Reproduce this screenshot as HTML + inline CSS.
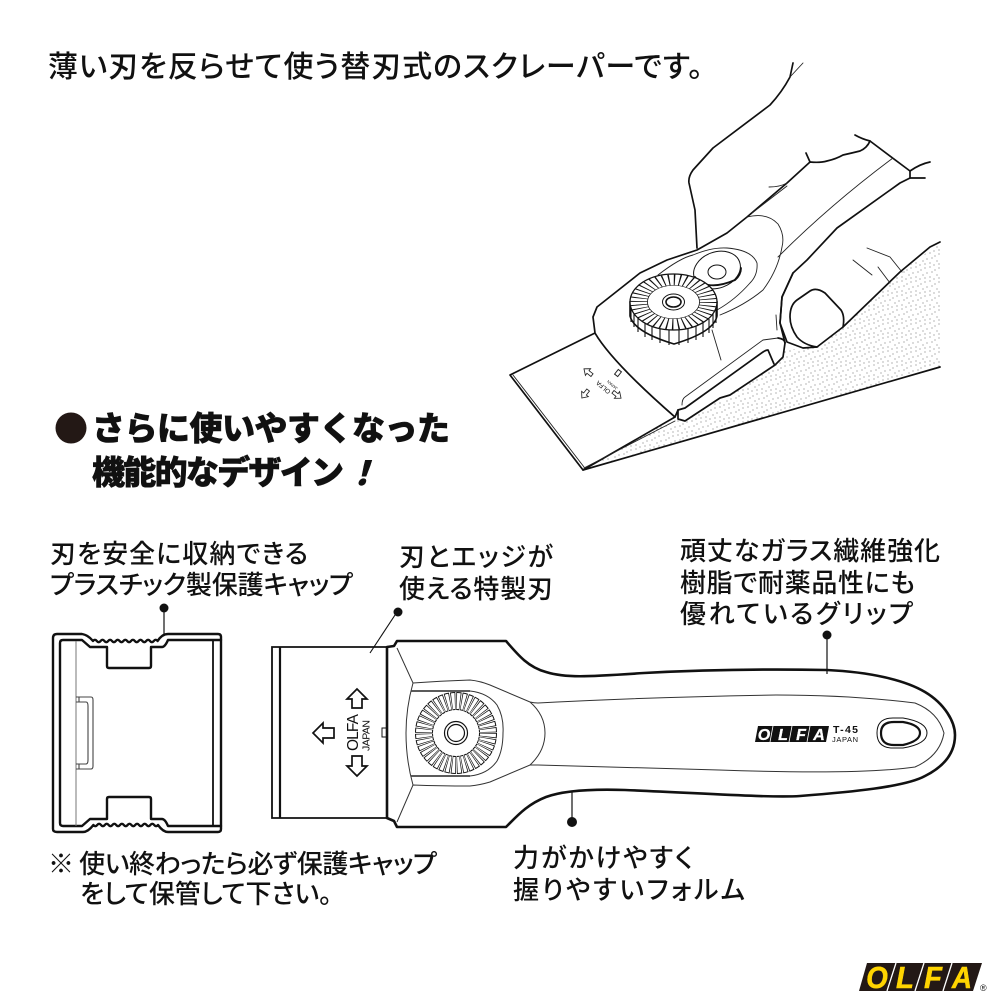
<!DOCTYPE html>
<html lang="ja"><head><meta charset="utf-8"><title>OLFA T-45</title>
<style>
html,body{margin:0;padding:0;background:#fff;width:1000px;height:1000px;overflow:hidden}
svg{display:block}
text{font-family:"Liberation Sans","Noto Sans CJK JP",sans-serif;fill:#111}
.j{font-size:26px;font-weight:500;font-feature-settings:"palt";font-family:"Noto Sans CJK JP",sans-serif}
.h{font-size:33px;font-weight:900;font-family:"Noto Sans CJK JP",sans-serif;stroke:#111;stroke-width:.6px}
.l{fill:none;stroke:#111;stroke-width:1.7;stroke-linejoin:round;stroke-linecap:round}
.t{fill:none;stroke:#222;stroke-width:.9;stroke-linecap:round;stroke-linejoin:round}
.w{fill:#fff;stroke:#111;stroke-width:1.7;stroke-linejoin:round}
.c{fill:none;stroke:#111;stroke-width:2.4;stroke-linejoin:round;stroke-linecap:round}
.g{fill:none;stroke:#333;stroke-width:1}
.y{font-size:31px;font-weight:bold;font-style:italic;fill:#ffd400;stroke:#ffd400;stroke-width:.5;text-anchor:middle}
.o{font-size:16px;font-weight:bold;font-style:italic;fill:#fff;stroke:#fff;stroke-width:.3;text-anchor:middle}
</style></head><body>
<svg width="1000" height="1000" viewBox="0 0 1000 1000" xmlns="http://www.w3.org/2000/svg">
<defs><pattern id="st" width="14" height="14" patternUnits="userSpaceOnUse">
<g fill="#444"><circle cx="1" cy="2" r=".5"/><circle cx="6" cy="1" r=".5"/><circle cx="11" cy="4" r=".5"/><circle cx="3" cy="7" r=".5"/><circle cx="8" cy="6" r=".5"/><circle cx="13" cy="9" r=".5"/><circle cx="1" cy="12" r=".5"/><circle cx="6" cy="11" r=".5"/><circle cx="10" cy="13" r=".5"/></g></pattern></defs>

<text x="48" y="77" style="font-size:30px;font-family:'Noto Sans CJK JP',sans-serif;font-weight:500;font-feature-settings:'palt'" textLength="655">薄い刃を反らせて使う替刃式のスクレーパーです。</text>

<!-- sanding surface -->
<path d="M583 470L940 367V243L900 272 843 327 817 347 783 350 730 395 685 420 675 418Z" fill="url(#st)"/>
<path class="l" d="M583 470L940 367"/>

<!-- blade -->
<path class="w" d="M510 375L595 333Q612 362 675 417L583 470Z"/>
<path class="t" d="M513 375L584 467M584 468L675 421"/>
<g fill="#fff" stroke="#222" stroke-width="1">
<path transform="translate(588 372) rotate(38) scale(.85)" d="M-6 0L0 -5V-2H6V2H0V5Z"/>
<path transform="translate(617 395) rotate(218) scale(.85)" d="M-6 0L0 -5V-2H6V2H0V5Z"/>
<path transform="translate(585 394) rotate(-52) scale(.85)" d="M-6 0L0 -5V-2H6V2H0V5Z"/>
<path transform="translate(618 373) rotate(38)" d="M-2 -3H2V3H-2Z"/>
</g>
<text transform="translate(611 391) rotate(220)" style="font-size:6.500px">OLFA</text>
<text transform="translate(618 388) rotate(220)" style="font-size:4px">JAPAN</text>

<!-- handle -->
<path class="w" d="M595 333L593 317 597 307 640 273 667 260 697 250 727 233 747 217 787 183 810 162Q820 163 827 161 836 159 843 155 852 153 860 151 867 148 870 141L910 171 910 178 900 183 837 228 807 260 793 273 782 297 780 323 785 343 783 357 775 365 730 395 720 398 685 421 678 419 678 410 675 417Q612 362 595 333Z"/>
<path class="l" d="M855 135Q862 139 870 141M910 171Q920 164 930 162M910 178H925M810 162L806 153"/>
<path class="t" d="M769 187Q780 187 787 183M752 213L787 186"/>
<path class="t" d="M893 158Q830 205 778 257M747 217Q767 212 778 224 785 235 782 247 778 270 763 290 745 305 720 315M658 275Q680 258 693 255 712 247 727 248 752 250 757 263 758 275 750 283 735 300 717 310M712 330L721 360"/>
<ellipse cx="717" cy="270" rx="24" ry="18" transform="rotate(-20 717 270)" fill="#fff" stroke="#111" stroke-width="1"/>
<path class="l" d="M695 277Q707 292 735 280 741 275 741 268" style="stroke-width:1.800"/>
<ellipse cx="717" cy="272" rx="9" ry="7" fill="#fff" stroke="#111"/>

<!-- slot -->
<path class="t" d="M682 405Q682 399 685 397L763 340 778 338"/>
<path class="l" d="M778 338Q785 339 785 343M678 410L685 408 763 352Q766 350 768 350L774 364"/>

<!-- hand -->
<path class="l" d="M793 63L790 77Q782 92 770 105L713 148 693 170Q688 177 689 183L695 210 697 248"/>
<path class="t" d="M803 63L790 77"/>
<!-- finger -->
<path class="l" d="M940 242L930 247 900 272 843 327 817 347 803 348 787 342 780 323 782 297 793 273"/>
<path class="l" d="M790 317Q790 305 797 300L810 291Q816 287 825 293L841 310Q845 316 843 327M817 347Q804 345 797 337 790 327 790 317"/>
<path class="t" d="M867 248L890 257 902 272M853 260L872 275M878 267L890 283M776 315L777 330"/>

<!-- dial -->
<g>
<path fill="#fff" stroke="#111" stroke-width="1.600" d="M630 302V316Q634 332 674 344 714 332 717 316V302Z"/>
<path stroke="#111" stroke-width="1.100" fill="none" d="M716 309v14M713 314v14M709 319v14M703 322v15M696 325v15M688 328v15M679 330v15M669 330v15M660 328v15M652 325v15M645 322v15M638 318v14M634 313v14M631 308v14"/>
<ellipse cx="673.500" cy="302" rx="43.500" ry="28" fill="#fff" stroke="#111" stroke-width="1.300"/>
<g transform="translate(673.500 302) scale(1 .64)">
<circle r="34.500" fill="none" stroke="#111" stroke-width="17" stroke-dasharray="1.300 4.120"/>
<circle r="26" fill="#fff" stroke="#111" stroke-width=".8"/>
</g>
<ellipse cx="673.500" cy="302" rx="11" ry="8" fill="#fff" stroke="#111" stroke-width="1"/>
<ellipse cx="673.500" cy="302" rx="7.500" ry="5" fill="#fff" stroke="#111" stroke-width="1.600"/>
</g>

<!-- heading -->
<circle cx="71" cy="428" r="15.500" fill="#231815"/>
<text class="h" x="92" y="440" textLength="358">さらに使いやすくなった</text>
<text class="h" x="92" y="484" textLength="252">機能的なデザイン</text>
<text class="h" transform="translate(345 485) skewX(-16)">！</text>

<!-- labels -->
<text class="j" x="50" y="563" textLength="258">刃を安全に収納できる</text>
<text class="j" x="50" y="594" textLength="303">プラスチック製保護キャップ</text>
<text class="j" x="399" y="566" textLength="154">刃とエッジが</text>
<text class="j" x="399" y="598" textLength="154">使える特製刃</text>
<text class="j" x="680" y="560" textLength="260">頑丈なガラス繊維強化</text>
<text class="j" x="680" y="592" textLength="235">樹脂で耐薬品性にも</text>
<text class="j" x="680" y="623" textLength="233">優れているグリップ</text>
<text class="j" x="48" y="873" textLength="389">※ 使い終わったら必ず保護キャップ</text>
<text class="j" x="80" y="903" textLength="252">をして保管して下さい。</text>
<text class="j" x="513" y="867" textLength="180">力がかけやすく</text>
<text class="j" x="513" y="899" textLength="232">握りやすいフォルム</text>

<!-- cap -->
<path class="c" fill="#fff" d="M57 634H82Q88 635 93 641q1.900-2.400 3.800 0t3.800 0t3.800 0t3.800 0t3.800 0t3.800 0t3.800 0t3.800 0t3.800 0t3.800 0t3.800 0t3.800 0t3.800 0t3.800 0t3.800 0t3.800 0t3.800 0Q162 634 168 634H218Q221 634 221 637V829Q221 832 218 832H168Q163 832 158 825q-1.900 2.400-3.800 0t-3.800 0t-3.800 0t-3.800 0t-3.800 0t-3.800 0t-3.800 0t-3.800 0t-3.800 0t-3.800 0t-3.800 0t-3.800 0t-3.800 0t-3.800 0t-3.800 0t-3.800 0t-3.800 0Q88 832 83 832H57Q53 832 53 829V638Q53 634 57 634Z"/>
<path class="c" d="M221 640H168Q165 647 162 647H151V666Q151 668 149 668H109Q107 668 107 666V647H90L82 640H63Q60 640 60 643V823Q60 826 63 826H82L90 819H107V799Q107 797 109 797H149Q151 797 151 799V819H162Q165 819 168 826H221"/>
<path fill="none" stroke="#111" stroke-width="1.800" d="M213 640V826"/>
<path fill="none" stroke="#777" stroke-width="1" d="M76 641V826"/>
<path fill="none" stroke="#444" stroke-width="1.100" d="M76 697H91Q93 697 93 700V766Q93 769 91 769H76M79 697V702H86Q88 702 88 706V760Q88 764 86 764H79V769M76 702H86M76 764H86"/>
<path fill="none" stroke="#111" stroke-width="1.200" d="M164 608V635"/>
<circle cx="164" cy="608" r="4.500" fill="#111"/>

<!-- blade lower -->
<path fill="#fff" stroke="#111" stroke-width="1.800" d="M387 647H272V818H387"/>
<path stroke="#111" stroke-width="2.200" d="M280 647V818"/>
<path fill="#fff" stroke="#111" stroke-width="1.700" stroke-linejoin="miter" d="M357 689L367 699H362V708H352V699H347ZM357 776L367 766H362V756H352V766H347ZM313 733L323 723V728H334V738H323V743Z"/>
<text transform="translate(358 751) rotate(-90)" style="font-size:15.500px" textLength="37">OLFA</text>
<text transform="translate(369.500 751) rotate(-90)" style="font-size:10.500px" textLength="31">JAPAN</text>
<rect x="382" y="728" width="5" height="9" fill="#fff" stroke="#111" stroke-width="1"/>
<path fill="none" stroke="#111" stroke-width="1.100" d="M397 612L370 653"/>
<circle cx="398" cy="612" r="4.500" fill="#111"/>

<!-- handle lower -->
<path fill="#fff" stroke="#111" stroke-width="2.600" stroke-linejoin="round" d="M387 647L394 646 397 641H506C518 655 528 667 546 672 565 678 585 677 644 673 700 670 770 669 827 670 870 672 905 680 925 692 945 704 955 722 955 735 955 752 945 766 925 776 905 787 851 792 800 796 770 798 700 793 625 790 595 789 565 790 546 797 528 804 518 815 508 825L506 827H397L394 821 387 818Z"/>
<path class="g" d="M397 648L413 683Q440 681 470 680 480 681 490 685L530 702Q534 703 538 703 650 697 776 695 850 695 915 703 938 712 944 733 940 756 915 767 860 775 719 770 620 767 538 765 534 765 530 765L490 782Q480 785 470 786 440 786 413 785L397 822"/>
<path class="g" d="M530 702Q545 715 545 733 545 751 530 765M413 683Q406 708 406 733 406 760 413 785"/>
<path fill="none" stroke="#444" stroke-width="1.700" d="M411 691H470M411 776H470"/>
<path class="g" d="M470 691Q488 693 497 705 504 717 503 733 503 750 497 761 488 774 470 776"/>
<g transform="translate(456 733)">
<circle r="32" fill="none" stroke="#111" stroke-width="18" stroke-dasharray="4.200 .827"/>
<circle r="32" fill="none" stroke="#fff" stroke-width="16" stroke-dasharray="2.900 2.127" stroke-dashoffset="-.65"/>
<circle r="11.500" fill="none" stroke="#111" stroke-width="1.200"/>
<circle r="8.500" fill="none" stroke="#111" stroke-width="1.200"/>
</g>
<!-- handle logo -->
<path d="M758 726H829L826 742H755Z" fill="#111"/>
<text class="o" x="764" y="740">O</text><text class="o" x="783" y="740">L</text><text class="o" x="801" y="740">F</text><text class="o" x="819" y="740">A</text>
<path d="M773 726L770 742M792 726L789 742M810 726L807 742" stroke="#fff" stroke-width=".8"/>
<text x="833" y="733" style="font-size:10.500px;font-weight:bold" textLength="25">T-45</text>
<text x="832" y="742" style="font-size:7.500px" textLength="26">JAPAN</text>
<path d="M877 733Q877 718 893 718H903Q927 722 927 733 927 744 903 748H893Q877 748 877 733Z" fill="none" stroke="#111" stroke-width="1"/>
<path d="M881 733Q881 722 894 722H903Q920 725 920 733 920 741 903 745H894Q881 745 881 733Z" fill="#fff" stroke="#111" stroke-width="2.200"/>
<!-- leaders -->
<path stroke="#111" stroke-width="1.200" d="M827 635V674M572 792V823"/>
<circle cx="827" cy="635" r="4.500" fill="#111"/>
<circle cx="572" cy="822" r="5" fill="#111"/>

<!-- OLFA logo -->
<path d="M867 963H982L973 991H859Z" fill="#231815"/>
<text class="y" transform="translate(877 988) scale(.9 1)">O</text>
<text class="y" transform="translate(905 988) scale(.95 1)">L</text>
<text class="y" transform="translate(933 988) scale(.95 1)">F</text>
<text class="y" transform="translate(962 988) scale(.9 1)">A</text>
<path d="M896 963L887 991M924 963L915 991M952 963L943 991" stroke="#fff" stroke-width="1.300"/>
<text x="980" y="991" style="font-size:9px">®</text>
</svg>
</body></html>
